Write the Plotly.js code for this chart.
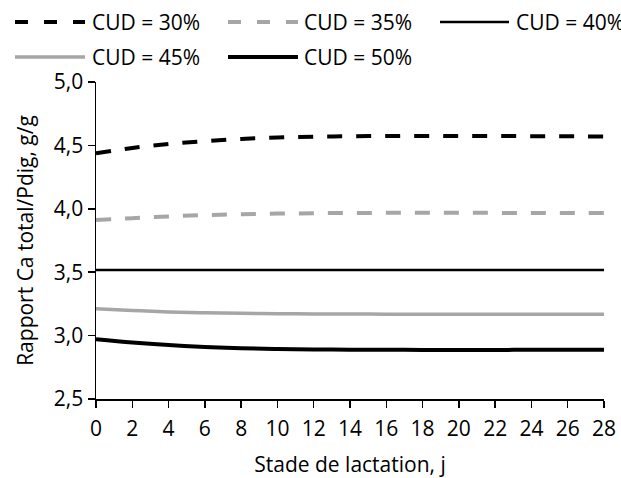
<!DOCTYPE html>
<html>
<head>
<meta charset="utf-8">
<script src="https://cdn.plot.ly/plotly-3.0.1.min.js"></script>
<style>html,body{margin:0;padding:0;background:#fff;}#chart{width:621px;height:478px;}</style>
</head>
<body>
<div id="chart"></div>
<script>
// ---- data ----
var days = [0, 2, 4, 6, 8, 10, 12, 14, 16, 18, 20, 22, 24, 26, 28];
var seriesNames = ["CUD = 30%", "CUD = 35%", "CUD = 40%", "CUD = 45%", "CUD = 50%"];
var cud30 = [4.438, 4.480, 4.512, 4.533, 4.551, 4.562, 4.568, 4.572, 4.574, 4.575, 4.575, 4.574, 4.573, 4.572, 4.570];
var cud35 = [3.912, 3.926, 3.940, 3.950, 3.957, 3.962, 3.965, 3.967, 3.968, 3.968, 3.968, 3.968, 3.967, 3.967, 3.966];
var cud40 = [3.517, 3.517, 3.517, 3.517, 3.517, 3.517, 3.517, 3.517, 3.517, 3.517, 3.517, 3.517, 3.517, 3.517, 3.517];
var cud45 = [3.212, 3.198, 3.187, 3.180, 3.176, 3.173, 3.171, 3.170, 3.169, 3.169, 3.169, 3.169, 3.169, 3.169, 3.169];
var cud50 = [2.971, 2.945, 2.925, 2.910, 2.900, 2.894, 2.891, 2.889, 2.888, 2.887, 2.887, 2.887, 2.888, 2.888, 2.889];
var xTicks = [0, 2, 4, 6, 8, 10, 12, 14, 16, 18, 20, 22, 24, 26, 28];
var yTicks = [2.5, 3.0, 3.5, 4.0, 4.5, 5.0];
var xTitle = "Stade de lactation, j";
var yTitle = "Rapport Ca total/Pdig, g/g";

// ---- styles ----
var BLACK = "#000000", GREY = "#A6A6A6";
var styles = [
  {color: BLACK, width: 4, dash: "15px,14px"},
  {color: GREY, width: 4, dash: "15px,14px"},
  {color: BLACK, width: 2.5, dash: "solid"},
  {color: GREY, width: 3.5, dash: "solid"},
  {color: BLACK, width: 4, dash: "solid"}
];
var allSeries = [cud30, cud35, cud40, cud45, cud50];

var traces = allSeries.map(function (ys, i) {
  return {
    x: days, y: ys, name: seriesNames[i], type: "scatter", mode: "lines",
    line: {color: styles[i].color, width: styles[i].width, dash: styles[i].dash, shape: "spline"},
    showlegend: false, hoverinfo: "skip"
  };
});

var W = 621, H = 478, ML = 96, MR = 17, MT = 82, MB = 79;
var PW = W - ML - MR, PH = H - MT - MB;
function px(x) { return (x - ML) / PW; }
function py(y) { return (H - MB - y) / PH; }

// manual legend (Excel style): [lineStart, lineEnd, textStart, rowY]
var legendPos = [
  [15, 85, 92, 22],
  [228, 298, 304, 22],
  [440, 509, 516, 22],
  [15, 85, 92, 57],
  [228, 298, 304, 57]
];
var FONT = "'Open Sans', 'Noto Sans', sans-serif";
var shapes = [], annotations = [];
legendPos.forEach(function (p, i) {
  shapes.push({
    type: "line", xref: "paper", yref: "paper",
    x0: px(p[0]), x1: px(p[1]), y0: py(p[3]), y1: py(p[3]),
    line: {color: styles[i].color, width: styles[i].width, dash: styles[i].dash === "solid" ? "solid" : "13px,16px"}
  });
  annotations.push({
    xref: "paper", yref: "paper", x: px(p[2] - 2), y: py(p[3]),
    xanchor: "left", yanchor: "middle", showarrow: false,
    text: seriesNames[i], font: {family: FONT, size: 21, color: "#000"}
  });
});

var layout = {
  width: W, height: H,
  margin: {l: ML, r: MR, t: MT, b: MB, pad: 0},
  paper_bgcolor: "#fff", plot_bgcolor: "#fff",
  font: {family: FONT, size: 21, color: "#000"},
  separators: ",.",
  showlegend: false,
  xaxis: {
    range: [0, 28], tickmode: "array", tickvals: xTicks, ticktext: xTicks.map(String),
    showgrid: false, zeroline: false, showline: true, linecolor: BLACK, linewidth: 1.5,
    ticks: "outside", ticklen: 7, tickwidth: 1.5, tickcolor: BLACK,
    tickfont: {family: FONT, size: 21, color: "#000"}, ticklabelstandoff: 3,
    title: {text: xTitle, font: {family: FONT, size: 21, color: "#000"}, standoff: 17},
    fixedrange: true
  },
  yaxis: {
    range: [2.5, 5.0], tickmode: "array", tickvals: yTicks, tickformat: ".1f",
    showgrid: false, zeroline: false, showline: true, linecolor: BLACK, linewidth: 1.5,
    ticks: "outside", ticklen: 7, tickwidth: 1.5, tickcolor: BLACK,
    tickfont: {family: FONT, size: 21, color: "#000"},
    title: {text: yTitle, font: {family: FONT, size: 21, color: "#000"}, standoff: 14},
    fixedrange: true
  },
  shapes: shapes,
  annotations: annotations
};

Plotly.newPlot("chart", traces, layout, {displayModeBar: false, staticPlot: true});
</script>
</body>
</html>
